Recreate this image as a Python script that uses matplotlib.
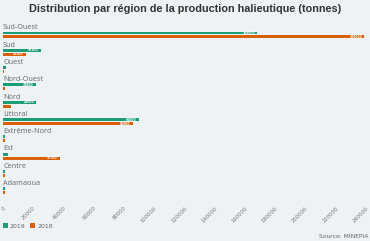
import numpy as np
from matplotlib import pyplot as plt

# production halieutique par region (tonnes)
regions = ["Sud-Ouest", "Sud", "Ouest", "Nord-Ouest", "Nord", "Littoral",
           "Extrême-Nord", "Est", "Centre", "Adamaoua"]
prod_2019 = [168000, 25100, 1800, 21800, 22000, 90000, 1200, 3000, 1000, 1000]
prod_2018 = [239000, 15200, 900, 1100, 5000, 86000, 1000, 37700, 1200, 1300]
xticks = list(range(0, 240001, 20000))

green = "#1b9e77"
orange = "#d95f02"
bg = "#edf2f4"
grey = "#666666"

fig = plt.figure(figsize=(3.7, 2.41), dpi=100, facecolor=bg)
ax = fig.add_axes([3 / 370, 1 - 200 / 241, 363 / 370, 180 / 241])
ax.set_facecolor(bg)

y = np.arange(len(regions))
h = 0.17
ax.barh(y, prod_2019, height=h, color=green, label="2019")
ax.barh(y + 0.23, prod_2018, height=h, color=orange, label="2018")

for i, name in enumerate(regions):
    ax.text(0, i - 0.3, name, fontsize=5.2, color=grey, va="center", ha="left",
            family="Open Sans")
    for off, v in ((0, prod_2019[i]), (0.23, prod_2018[i])):
        if v > 10000:
            ax.text(v - 1500, i + off, str(v), fontsize=2.2, color="white",
                    va="center", ha="right", fontweight="bold")

ax.set_xlim(0, 240000)
ax.set_ylim(9.65, -0.75)
ax.set_xticks(xticks)
ax.set_xticklabels([str(t) for t in xticks], rotation=45, ha="right",
                   rotation_mode="anchor", fontsize=3.8, color="#777777")
ax.set_yticks([])
ax.tick_params(axis="x", length=0, pad=4)
for s in ax.spines.values():
    s.set_visible(False)

fig.text(0.5, 1 - 9 / 241, "Distribution par région de la production halieutique (tonnes)",
         ha="center", va="center", fontsize=7.8, fontweight="bold", color="#333333",
         family="Liberation Sans")

leg = fig.legend(loc="center left", bbox_to_anchor=(0.0, 1 - 226 / 241), ncol=2,
                 frameon=False, fontsize=4.5, handlelength=0.9, handleheight=0.9,
                 handletextpad=0.3, columnspacing=0.6, borderaxespad=0)
for t in leg.get_texts():
    t.set_color(grey)

fig.text(0.995, 1 - 237 / 241, "Source: MINEPIA", ha="right", va="center",
         fontsize=4.3, color=grey)

fig.savefig("out.png", dpi=100, facecolor=bg)
